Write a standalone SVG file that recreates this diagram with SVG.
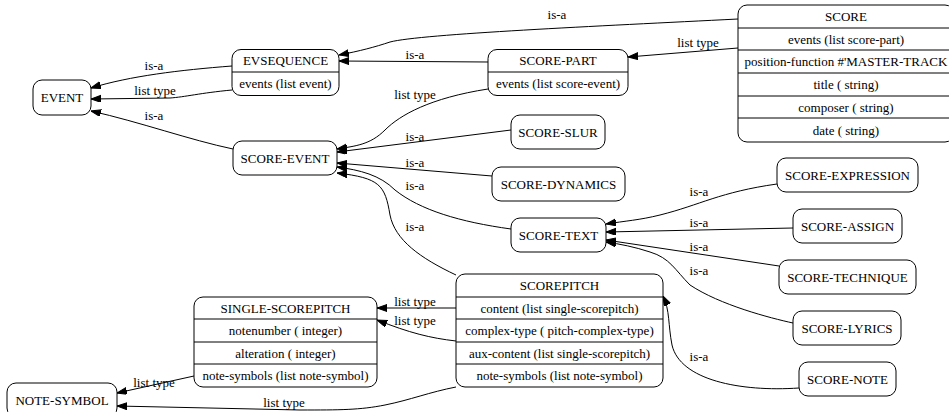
<svg xmlns="http://www.w3.org/2000/svg" width="949" height="412" viewBox="0 0 949 412" font-family="'Liberation Serif', 'Times New Roman', 'DejaVu Serif', serif" font-size="13">
<defs>
<style>
.box{fill:#fff;stroke:#000;stroke-width:1}
.sep{stroke:#000;stroke-width:1}
text{font-family:'Liberation Serif','Times New Roman','DejaVu Serif',serif;font-size:13px;fill:#000;text-anchor:middle}
.e{fill:none;stroke:#000;stroke-width:1;marker-end:url(#arr)}
</style>
<marker id="arr" markerUnits="userSpaceOnUse" markerWidth="10" markerHeight="8" refX="10" refY="3.5" orient="auto">
<path d="M0,0 L10,3.5 L0,7 z" fill="#000" stroke="#000" stroke-width="1"/>
</marker>
</defs>
<rect width="949" height="412" fill="#fff"/>

<g id="connectors">
<path class="e" d="M738,19 C600,26 420,34 390,42 C375,47 360,51 339,55"/>
<text x="557" y="19">is-a</text>
<path class="e" d="M738,48 L628,57"/>
<text x="698" y="47">list type</text>
<path class="e" d="M488,62 L339,61"/>
<text x="415" y="59">is-a</text>
<path class="e" d="M232,66 C180,70 130,76 91,88"/>
<text x="154" y="70">is-a</text>
<path class="e" d="M232,90 C200,93 185,97 170,98 L91,99"/>
<text x="155" y="95">list type</text>
<path class="e" d="M233,149 C190,140 140,122 91,111"/>
<text x="154" y="120">is-a</text>
<path class="e" d="M488,89 C430,98 400,115 385,130 C370,145 355,146 337,149"/>
<text x="415" y="99">list type</text>
<path class="e" d="M511,130 L337,152"/>
<text x="415" y="141">is-a</text>
<path class="e" d="M492,176 L337,163"/>
<text x="415" y="167">is-a</text>
<path class="e" d="M511,229 C460,222 420,210 395,190 C380,175 360,170 337,167"/>
<text x="415" y="190">is-a</text>
<path class="e" d="M456,275 C420,258 395,240 390,215 C385,185 380,178 337,173"/>
<text x="415" y="231">is-a</text>
<path class="e" d="M777,184 C720,192 700,205 660,215 C640,220 625,221 606,224"/>
<text x="699" y="196">is-a</text>
<path class="e" d="M793,228 L606,232"/>
<text x="699" y="227">is-a</text>
<path class="e" d="M779,266 L606,240"/>
<text x="699" y="251">is-a</text>
<path class="e" d="M793,323 C770,318 720,305 690,285 C675,270 670,258 650,252 C635,247 620,244 606,242"/>
<text x="699" y="275">is-a</text>
<path class="e" d="M799,388 C740,392 680,380 672,345 C668,325 670,310 663,296"/>
<text x="699" y="361">is-a</text>
<path class="e" d="M456,308 L377,308"/>
<text x="415" y="306">list type</text>
<path class="e" d="M456,341 C430,338 410,333 377,320"/>
<text x="415" y="325">list type</text>
<path class="e" d="M194,376 L117,393"/>
<text x="154" y="387">list type</text>
<path class="e" d="M456,387 C430,392 410,400 385,405 C360,410 340,410 300,410 L117,406"/>
<text x="284" y="407">list type</text>
</g>

<g id="EVENT">
<rect class="box" x="33" y="80" width="58" height="35" rx="9"/>
<text x="62" y="102">EVENT</text>
</g>

<g id="EVSEQUENCE">
<rect class="box" x="232" y="49.5" width="107" height="46" rx="9"/>
<line class="sep" x1="232" y1="72" x2="339" y2="72"/>
<text x="285.5" y="65">EVSEQUENCE</text>
<text x="285.5" y="88">events (list event)</text>
</g>

<g id="SCORE-PART">
<rect class="box" x="488" y="49.5" width="140" height="46" rx="9"/>
<line class="sep" x1="488" y1="72" x2="628" y2="72"/>
<text x="558" y="65">SCORE-PART</text>
<text x="558" y="88">events (list score-event)</text>
</g>

<g id="SCORE">
<rect class="box" x="738" y="5" width="216" height="137" rx="9"/>
<line class="sep" x1="738" y1="28" x2="954" y2="28"/>
<line class="sep" x1="738" y1="50" x2="954" y2="50"/>
<line class="sep" x1="738" y1="73" x2="954" y2="73"/>
<line class="sep" x1="738" y1="96" x2="954" y2="96"/>
<line class="sep" x1="738" y1="118" x2="954" y2="118"/>
<text x="846" y="21">SCORE</text>
<text x="846" y="43.5">events (list score-part)</text>
<text x="846" y="66">position-function #'MASTER-TRACK</text>
<text x="846" y="89">title ( string)</text>
<text x="846" y="111.5">composer ( string)</text>
<text x="846" y="134.5">date ( string)</text>
</g>

<g id="SCORE-EVENT">
<rect class="box" x="233" y="141" width="104" height="34" rx="9"/>
<text x="285" y="162.5">SCORE-EVENT</text>
</g>

<g id="SCORE-SLUR">
<rect class="box" x="511" y="115" width="94" height="34" rx="9"/>
<text x="558" y="136.5">SCORE-SLUR</text>
</g>

<g id="SCORE-DYNAMICS">
<rect class="box" x="492" y="167" width="133" height="34" rx="9"/>
<text x="558.5" y="188.5">SCORE-DYNAMICS</text>
</g>

<g id="SCORE-TEXT">
<rect class="box" x="511" y="218" width="95" height="34" rx="9"/>
<text x="558.5" y="239.5">SCORE-TEXT</text>
</g>

<g id="SCORE-EXPRESSION">
<rect class="box" x="777" y="158" width="141" height="34" rx="9"/>
<text x="847.5" y="179.5">SCORE-EXPRESSION</text>
</g>

<g id="SCORE-ASSIGN">
<rect class="box" x="793" y="209" width="109" height="34" rx="9"/>
<text x="847.5" y="230.5">SCORE-ASSIGN</text>
</g>

<g id="SCORE-TECHNIQUE">
<rect class="box" x="779" y="260" width="137" height="34" rx="9"/>
<text x="847.5" y="281.5">SCORE-TECHNIQUE</text>
</g>

<g id="SCORE-LYRICS">
<rect class="box" x="793" y="311" width="108" height="34" rx="9"/>
<text x="847" y="332.5">SCORE-LYRICS</text>
</g>

<g id="SCORE-NOTE">
<rect class="box" x="799" y="362" width="97" height="34" rx="9"/>
<text x="847.5" y="383.5">SCORE-NOTE</text>
</g>

<g id="SCOREPITCH">
<rect class="box" x="456" y="274" width="207" height="113" rx="9"/>
<line class="sep" x1="456" y1="297" x2="663" y2="297"/>
<line class="sep" x1="456" y1="319" x2="663" y2="319"/>
<line class="sep" x1="456" y1="342" x2="663" y2="342"/>
<line class="sep" x1="456" y1="364" x2="663" y2="364"/>
<text x="559.5" y="290">SCOREPITCH</text>
<text x="559.5" y="312.5">content (list single-scorepitch)</text>
<text x="559.5" y="335">complex-type ( pitch-complex-type)</text>
<text x="559.5" y="357.5">aux-content (list single-scorepitch)</text>
<text x="559.5" y="380">note-symbols (list note-symbol)</text>
</g>

<g id="SINGLE-SCOREPITCH">
<rect class="box" x="194" y="297" width="183" height="90" rx="9"/>
<line class="sep" x1="194" y1="319" x2="377" y2="319"/>
<line class="sep" x1="194" y1="342" x2="377" y2="342"/>
<line class="sep" x1="194" y1="364" x2="377" y2="364"/>
<text x="285.5" y="312.5">SINGLE-SCOREPITCH</text>
<text x="285.5" y="335">notenumber ( integer)</text>
<text x="285.5" y="357.5">alteration ( integer)</text>
<text x="285.5" y="380">note-symbols (list note-symbol)</text>
</g>

<g id="NOTE-SYMBOL">
<rect class="box" x="7" y="383" width="110" height="34" rx="9"/>
<text x="62" y="404.5">NOTE-SYMBOL</text>
</g>
</svg>
